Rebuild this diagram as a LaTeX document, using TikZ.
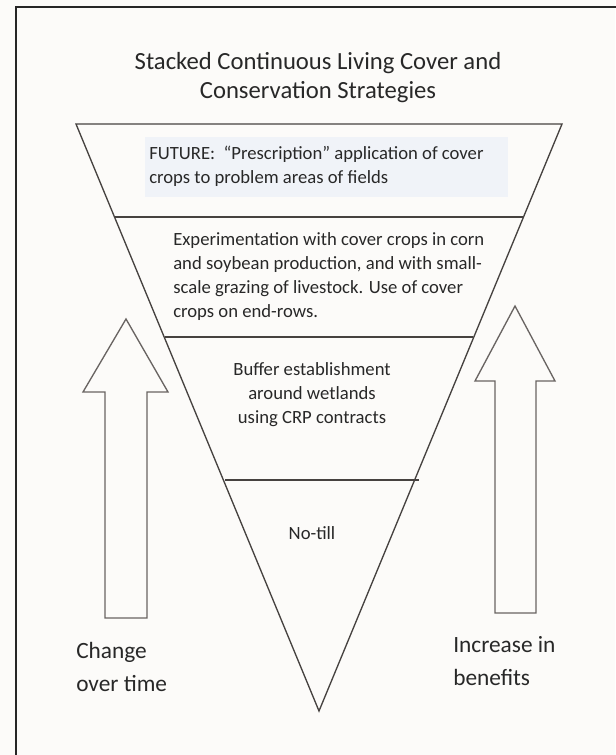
\documentclass[tikz,border=0pt]{standalone}
\usepackage{fontspec}
\setmainfont{Carlito}
\usepackage{xcolor}
\usepackage{tikz}
\definecolor{paperc}{RGB}{252,251,249}
\definecolor{linec}{RGB}{70,66,64}
\definecolor{arrowc}{RGB}{105,100,98}
\definecolor{futurec}{RGB}{240,243,248}
\definecolor{textc}{RGB}{40,40,40}

\begin{document}
\begin{tikzpicture}[x=0.75pt,y=-0.75pt,
  body/.style={inner sep=0pt,text=textc,font=\fontsize{14}{18}\selectfont},
  bigtext/.style={inner sep=0pt,text=textc,font=\fontsize{17.5}{25}\selectfont,align=left},
  blockarrow/.style={draw=arrowc,line width=1pt,fill=paperc,line join=miter}]
\useasboundingbox (0,0) rectangle (615,755);
\fill[paperc] (0,0) rectangle (615,755);
\draw[black!85,line width=1.6pt] (16,7) rectangle (640,780);
% title
\node[inner sep=0pt,text=textc,font=\fontsize{18.5}{22}\selectfont,align=center] (title) at (318,77.5)
  {Stacked Continuous Living Cover and\\Conservation Strategies};
% the funnel
\coordinate (tl) at (76,124);
\coordinate (tr) at (562,124);
\coordinate (apex) at (319,711);
\fill[futurec] (145,137) rectangle (508,197);
\draw[linec,line width=1pt,line join=miter] (tl)--(tr)--(apex)--cycle;
\draw[linec,line width=1pt] (114,217)--(523,217);
\draw[linec,line width=1pt] (165,337)--(473,337);
\draw[linec,line width=1pt] (225,480)--(419,480);
\node[body,anchor=west,align=left] (future) at (149,166.5)
  {FUTURE:\ \ ``Prescription'' application of cover\\crops to problem areas of fields};
\node[body,anchor=west,align=left] (exper) at (173,276.5)
  {Experimentation with cover crops in corn\\and soybean production, and with small-\\scale grazing of livestock. Use of cover\\crops on end-rows.};
\node[body,align=center] (buffer) at (312,394.5)
  {Buffer establishment\\around wetlands\\using CRP contracts};
\node[body] (notill) at (312,533) {No-till};
% side arrows
\draw[blockarrow] (105,618)--(105,392)--(83,392)--(126,319)--(168,392)--(147,392)--(147,618)--cycle;
\draw[blockarrow] (495,613)--(495,381)--(475,381)--(515,306)--(555,381)--(536,381)--(536,613)--cycle;
\node[bigtext,anchor=west] (change) at (76,667) {Change\\over time};
\node[bigtext,anchor=west] (benefit) at (453,661) {Increase in\\benefits};
\end{tikzpicture}
\end{document}
